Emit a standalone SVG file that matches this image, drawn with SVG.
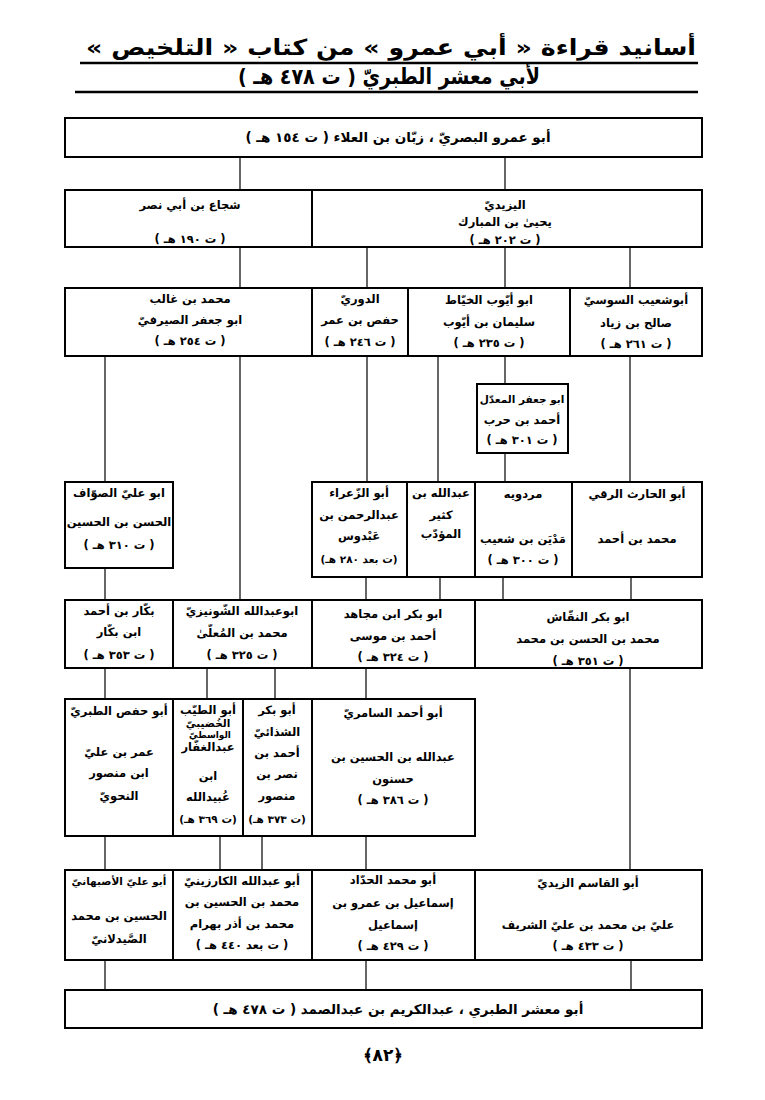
<svg xmlns="http://www.w3.org/2000/svg" width="765" height="1100" viewBox="0 0 765 1100">
<style>
.bg{fill:#fff}
.box{fill:#fff;stroke:#000;stroke-width:2}
.con line{stroke:#000;stroke-width:1.2}
text{font-family:"DejaVu Sans",sans-serif;font-weight:bold;fill:#000;text-anchor:middle;direction:rtl;unicode-bidi:embed}
.t{font-size:11.5px}
.w{font-size:13.5px}
.s{font-size:10.5px}
.xs{font-size:9px}
.title{font-size:22px}
.ul{stroke:#000;stroke-width:2.5}
</style>
<rect class="bg" x="0" y="0" width="765" height="1100"/>
<g id="title">
<text class="title" x="391" y="55" textLength="610" lengthAdjust="spacingAndGlyphs">أسانيد قراءة « أبي عمرو » من كتاب « التلخيص »</text>
<line class="ul" x1="80" y1="63" x2="698" y2="63"/>
<text class="title" x="389" y="84" textLength="302" lengthAdjust="spacingAndGlyphs">لأبي معشر الطبريّ ( ت ٤٧٨ هـ )</text>
<line class="ul" x1="75" y1="92" x2="698" y2="92"/>
</g>
<g id="connectors" class="con">
<line x1="240" y1="157" x2="240" y2="190"/>
<line x1="505" y1="157" x2="505" y2="190"/>
<line x1="240" y1="247" x2="240" y2="288"/>
<line x1="367" y1="247" x2="367" y2="288"/>
<line x1="505" y1="247" x2="505" y2="288"/>
<line x1="630" y1="247" x2="630" y2="288"/>
<line x1="105" y1="356" x2="105" y2="482"/>
<line x1="240" y1="356" x2="240" y2="600"/>
<line x1="367" y1="356" x2="367" y2="482"/>
<line x1="438" y1="356" x2="438" y2="482"/>
<line x1="505" y1="356" x2="505" y2="384"/>
<line x1="630" y1="356" x2="630" y2="482"/>
<line x1="505" y1="453" x2="505" y2="482"/>
<line x1="105" y1="568" x2="105" y2="600"/>
<line x1="366" y1="577" x2="366" y2="600"/>
<line x1="440" y1="577" x2="440" y2="600"/>
<line x1="503" y1="577" x2="503" y2="600"/>
<line x1="631" y1="577" x2="631" y2="600"/>
<line x1="105" y1="668" x2="105" y2="699"/>
<line x1="207" y1="668" x2="207" y2="699"/>
<line x1="275" y1="668" x2="275" y2="699"/>
<line x1="366" y1="668" x2="366" y2="699"/>
<line x1="630" y1="668" x2="630" y2="870"/>
<line x1="105" y1="836" x2="105" y2="870"/>
<line x1="220" y1="836" x2="220" y2="870"/>
<line x1="262" y1="836" x2="262" y2="870"/>
<line x1="366" y1="836" x2="366" y2="870"/>
<line x1="105" y1="960" x2="105" y2="990"/>
<line x1="366" y1="960" x2="366" y2="990"/>
<line x1="631" y1="960" x2="631" y2="990"/>
</g>
<g id="n-abuamr">
<rect class="box" x="65" y="118" width="637" height="39"/>
<text class="w" x="398" y="142">أبو عمرو البصريّ ، زبّان بن العلاء  ( ت ١٥٤ هـ )</text>
</g>
<g id="n-shuja">
<rect class="box" x="65" y="190" width="247" height="57"/>
<text class="t" x="190" y="209">شجاع بن أبي نصر</text>
<text class="t" x="190" y="243">( ت ١٩٠ هـ )</text>
</g>
<g id="n-yazidi">
<rect class="box" x="312" y="190" width="390" height="57"/>
<text class="t" x="505" y="209">اليزيديّ</text>
<text class="t" x="505" y="226">يحيىٰ بن المبارك</text>
<text class="t" x="505" y="244">( ت ٢٠٢ هـ )</text>
</g>
<g id="n-ghalib">
<rect class="box" x="65" y="288" width="247" height="68"/>
<text class="t" x="190" y="303">محمد بن غالب</text>
<text class="t" x="190" y="324">ابو جعفر الصيرفيّ</text>
<text class="t" x="190" y="345">( ت ٢٥٤ هـ )</text>
</g>
<g id="n-duri">
<rect class="box" x="312" y="288" width="96" height="68"/>
<text class="t" x="360" y="303">الدوريّ</text>
<text class="t" x="360" y="324">حفص بن عمر</text>
<text class="t" x="360" y="346">( ت ٢٤٦ هـ )</text>
</g>
<g id="n-khayyat">
<rect class="box" x="408" y="288" width="162" height="68"/>
<text class="t" x="489" y="304">ابو أيّوب الخيّاط</text>
<text class="t" x="489" y="326">سليمان بن أيّوب</text>
<text class="t" x="489" y="347">( ت ٢٣٥ هـ )</text>
</g>
<g id="n-susi">
<rect class="box" x="570" y="288" width="132" height="68"/>
<text class="t" x="636" y="304">أبوشعيب السوسيّ</text>
<text class="t" x="636" y="327">صالح بن زياد</text>
<text class="t" x="636" y="348">( ت ٢٦١ هـ )</text>
</g>
<g id="n-muaddil">
<rect class="box" x="477" y="384" width="91" height="69"/>
<text class="s" x="522" y="403">ابو جعفر المعدّل</text>
<text class="t" x="522" y="424">أحمد بن حرب</text>
<text class="t" x="522" y="444">( ت ٣٠١ هـ )</text>
</g>
<g id="n-sawwaf">
<rect class="box" x="65" y="482" width="108" height="86"/>
<text class="t" x="119" y="497">ابو عليّ الصوّاف</text>
<text class="t" x="119" y="526">الحسن بن الحسين</text>
<text class="t" x="119" y="549">( ت ٣١٠ هـ )</text>
</g>
<g id="n-zaraa">
<rect class="box" x="312" y="482" width="95" height="95"/>
<text class="t" x="359" y="497">أبو الزّعراء</text>
<text class="t" x="359" y="519">عبدالرحمن بن</text>
<text class="t" x="359" y="540">عَبْدوس</text>
<text class="s" x="359" y="563">(ت بعد ٢٨٠ هـ)</text>
</g>
<g id="n-kathir">
<rect class="box" x="407" y="482" width="68" height="95"/>
<text class="t" x="441" y="497">عبدالله بن</text>
<text class="t" x="441" y="519">كثير</text>
<text class="t" x="441" y="538">المؤدّب</text>
</g>
<g id="n-mardawayh">
<rect class="box" x="475" y="482" width="97" height="95"/>
<text class="t" x="523" y="498">مردويه</text>
<text class="t" x="523" y="543">مَدْيَن بن شعيب</text>
<text class="t" x="523" y="564">( ت ٣٠٠ هـ )</text>
</g>
<g id="n-harith">
<rect class="box" x="572" y="482" width="130" height="95"/>
<text class="t" x="637" y="498">أبو الحارث الرقي</text>
<text class="t" x="637" y="543">محمد بن أحمد</text>
</g>
<g id="n-bakkar">
<rect class="box" x="65" y="600" width="108" height="68"/>
<text class="t" x="119" y="615">بكّار بن أحمد</text>
<text class="t" x="119" y="636">ابن بكّار</text>
<text class="t" x="119" y="659">( ت ٣٥٣ هـ )</text>
</g>
<g id="n-shunizi">
<rect class="box" x="173" y="600" width="139" height="68"/>
<text class="t" x="242" y="615">ابوعبدالله الشّونيزيّ</text>
<text class="t" x="242" y="637">محمد بن المُعلّىٰ</text>
<text class="t" x="242" y="659">( ت ٣٢٥ هـ )</text>
</g>
<g id="n-mujahid">
<rect class="box" x="312" y="600" width="163" height="68"/>
<text class="t" x="393" y="618">ابو بكر ابن مجاهد</text>
<text class="t" x="393" y="640">أحمد بن موسى</text>
<text class="t" x="393" y="661">( ت ٣٢٤ هـ )</text>
</g>
<g id="n-naqqash">
<rect class="box" x="475" y="600" width="227" height="68"/>
<text class="t" x="588" y="621">ابو بكر النقّاش</text>
<text class="t" x="588" y="643">محمد بن الحسن بن محمد</text>
<text class="t" x="588" y="665">( ت ٣٥١ هـ )</text>
</g>
<g id="n-hafs">
<rect class="box" x="65" y="699" width="108" height="137"/>
<text class="t" x="119" y="715">أبو حفص الطبريّ</text>
<text class="t" x="119" y="756">عمر بن عليّ</text>
<text class="t" x="119" y="777">ابن منصور</text>
<text class="t" x="119" y="800">النحويّ</text>
</g>
<g id="n-khudaybi">
<rect class="box" x="173" y="699" width="70" height="137"/>
<text class="t" x="208" y="714">أبو الطيّب</text>
<text class="s" x="208" y="727">الخُضيبيّ</text>
<text class="xs" x="210" y="738">الواسطيّ</text>
<text class="t" x="208" y="751">عبدالغفّار</text>
<text class="t" x="208" y="780">ابن</text>
<text class="t" x="208" y="801">عُبيدالله</text>
<text class="s" x="208" y="823">(ت ٣٦٩ هـ)</text>
</g>
<g id="n-shadhai">
<rect class="box" x="243" y="699" width="69" height="137"/>
<text class="t" x="277" y="714">أبو بكر</text>
<text class="t" x="277" y="736">الشذائيّ</text>
<text class="t" x="277" y="757">أحمد بن</text>
<text class="t" x="277" y="778">نصر بن</text>
<text class="t" x="277" y="800">منصور</text>
<text class="s" x="277" y="823">(ت ٣٧٣ هـ)</text>
</g>
<g id="n-samarri">
<rect class="box" x="312" y="699" width="163" height="137"/>
<text class="t" x="393" y="717">أبو أحمد السامريّ</text>
<text class="t" x="393" y="761">عبدالله بن الحسين بن</text>
<text class="t" x="393" y="783">حسنون</text>
<text class="t" x="393" y="804">( ت ٣٨٦ هـ )</text>
</g>
<g id="n-isbahani">
<rect class="box" x="65" y="870" width="108" height="90"/>
<text class="s" x="119" y="885">أبو عليّ الأصبهانيّ</text>
<text class="t" x="119" y="920">الحسين بن محمد</text>
<text class="t" x="119" y="943">الصَّيدلانيّ</text>
</g>
<g id="n-karzini">
<rect class="box" x="173" y="870" width="139" height="90"/>
<text class="t" x="242" y="885">أبو عبدالله الكارزينيّ</text>
<text class="t" x="242" y="906">محمد بن الحسين بن</text>
<text class="t" x="242" y="928">محمد بن أذر بهرام</text>
<text class="t" x="242" y="949">( ت بعد ٤٤٠ هـ )</text>
</g>
<g id="n-haddad">
<rect class="box" x="312" y="870" width="163" height="90"/>
<text class="t" x="393" y="884">أبو محمد الحدّاد</text>
<text class="t" x="393" y="907">إسماعيل بن عمرو بن</text>
<text class="t" x="393" y="929">إسماعيل</text>
<text class="t" x="393" y="950">( ت ٤٢٩ هـ )</text>
</g>
<g id="n-zaydi">
<rect class="box" x="475" y="870" width="227" height="90"/>
<text class="t" x="588" y="887">أبو القاسم الزيديّ</text>
<text class="t" x="588" y="929">عليّ بن محمد بن عليّ الشريف</text>
<text class="t" x="588" y="950">( ت ٤٣٣ هـ )</text>
</g>
<g id="n-abumashar">
<rect class="box" x="65" y="990" width="637" height="38"/>
<text class="w" x="398" y="1014">أبو معشر الطبري ، عبدالكريم بن عبدالصمد  ( ت ٤٧٨ هـ )</text>
</g>
<g id="page">
<text x="383" y="1061" style="font-size:17px">﴿٨٢﴾</text>
</g>
</svg>
